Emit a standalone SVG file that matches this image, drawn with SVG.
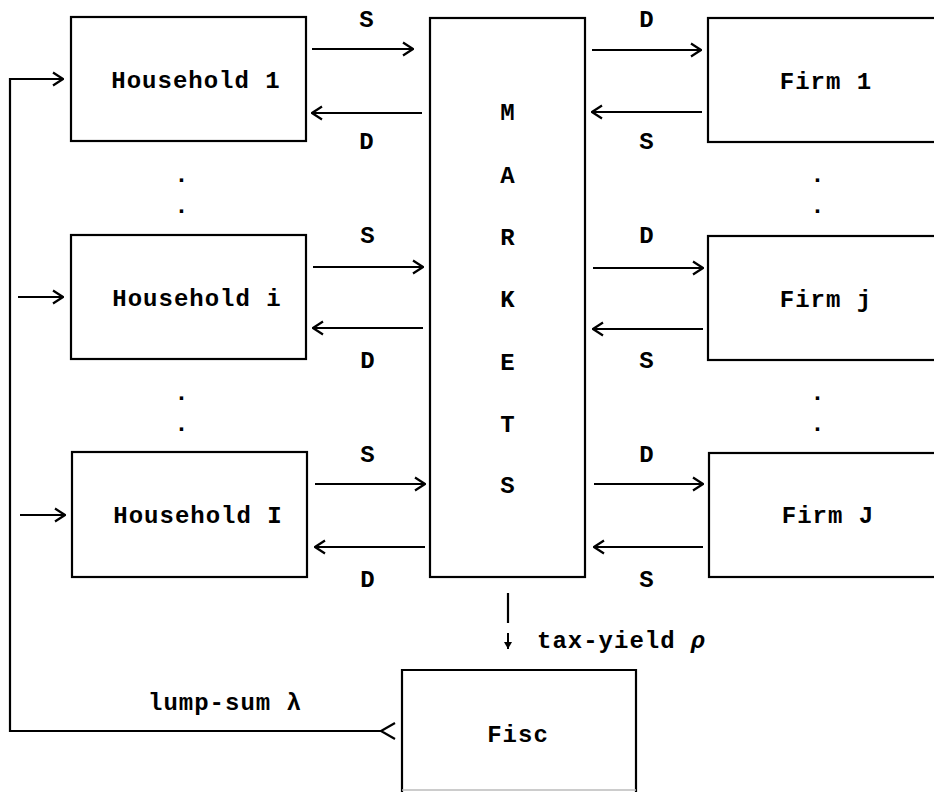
<svg xmlns="http://www.w3.org/2000/svg" width="934" height="792" viewBox="0 0 934 792">
<defs>
<marker id="chev" viewBox="0 0 12 16" refX="11" refY="8" markerWidth="12" markerHeight="16" markerUnits="userSpaceOnUse" orient="auto"><path d="M1,1.5 L11,8 L1,14.5" fill="none" stroke="#000" stroke-width="2.2"/></marker>
<marker id="tip" viewBox="0 0 8 8" refX="7" refY="4" markerWidth="8" markerHeight="8" markerUnits="userSpaceOnUse" orient="auto"><path d="M0,0 L7,4 L0,8 Z" fill="#000"/></marker>
<style>
.box{fill:#fff;stroke:#000;stroke-width:2.2}
.t{font-family:"Liberation Mono","DejaVu Sans Mono",monospace;font-size:24px;font-weight:bold;fill:#000;letter-spacing:1px}
.c{text-anchor:middle}
.ln{fill:none;stroke:#000;stroke-width:2.2}
.arr{marker-end:url(#chev)}
</style>
</defs>
<rect width="934" height="792" fill="#fff"/>

<g id="household1"><rect class="box" x="71" y="17" width="235" height="124"/><text class="t c" x="196" y="88">Household 1</text></g>
<g id="householdi"><rect class="box" x="71" y="235" width="235" height="124"/><text class="t c" x="197" y="306">Household i</text></g>
<g id="householdI"><rect class="box" x="72" y="452" width="235" height="125"/><text class="t c" x="198" y="523">Household I</text></g>

<g id="markets"><rect class="box" x="430" y="18" width="155" height="559"/>
<text class="t c" x="508" y="120">M</text>
<text class="t c" x="508" y="183">A</text>
<text class="t c" x="508" y="245">R</text>
<text class="t c" x="508" y="307">K</text>
<text class="t c" x="508" y="370">E</text>
<text class="t c" x="508" y="432">T</text>
<text class="t c" x="508" y="493">S</text>
</g>

<g id="firm1"><rect class="box" x="708" y="18" width="240" height="124"/><text class="t c" x="826" y="89">Firm 1</text></g>
<g id="firmj"><rect class="box" x="708" y="236" width="240" height="124"/><text class="t c" x="826" y="307">Firm j</text></g>
<g id="firmJ"><rect class="box" x="709" y="453" width="240" height="124"/><text class="t c" x="828" y="523">Firm J</text></g>

<g id="fisc"><path class="ln" d="M402,792 V670 H636 V792"/><line x1="402" y1="790" x2="636" y2="790" stroke="#bbb" stroke-width="1.5"/><text class="t c" x="518" y="742">Fisc</text></g>

<g id="dots">
<text class="t c" x="182" y="182">.</text><text class="t c" x="182" y="213">.</text>
<text class="t c" x="182" y="400">.</text><text class="t c" x="182" y="431">.</text>
<text class="t c" x="818" y="182">.</text><text class="t c" x="818" y="213">.</text>
<text class="t c" x="818" y="400">.</text><text class="t c" x="818" y="431">.</text>
</g>

<g id="connectors">
<path class="ln arr" d="M312,49 H413"/>
<path class="ln arr" d="M422,113 H312"/>
<path class="ln arr" d="M592,50 H701"/>
<path class="ln arr" d="M702,112 H592"/>
<path class="ln arr" d="M313,267 H423"/>
<path class="ln arr" d="M423,328 H313"/>
<path class="ln arr" d="M593,268 H703"/>
<path class="ln arr" d="M703,329 H593"/>
<path class="ln arr" d="M315,484 H425"/>
<path class="ln arr" d="M425,547 H315"/>
<path class="ln arr" d="M594,484 H703"/>
<path class="ln arr" d="M703,547 H594"/>
<path class="ln arr" d="M381,731 H10 V79 H63"/>
<path class="ln" d="M395,723 L381,731 L395,739"/>
<path class="ln arr" d="M18,297 H63"/>
<path class="ln arr" d="M20,515 H65"/>
<path class="ln" d="M508,593 V623"/>
<path d="M508,633 V649" fill="none" stroke="#000" stroke-width="2" marker-end="url(#tip)"/>
</g>

<g id="labels">
<text class="t c" x="367" y="27">S</text><text class="t c" x="367" y="149">D</text>
<text class="t c" x="647" y="27">D</text><text class="t c" x="647" y="149">S</text>
<text class="t c" x="368" y="243">S</text><text class="t c" x="368" y="368">D</text>
<text class="t c" x="647" y="243">D</text><text class="t c" x="647" y="368">S</text>
<text class="t c" x="368" y="462">S</text><text class="t c" x="368" y="587">D</text>
<text class="t c" x="647" y="462">D</text><text class="t c" x="647" y="587">S</text>
<text class="t" x="537" y="648">tax-yield <tspan font-style="italic">ρ</tspan></text>
<text class="t" x="148" y="710">lump-sum λ</text>
</g>
</svg>
